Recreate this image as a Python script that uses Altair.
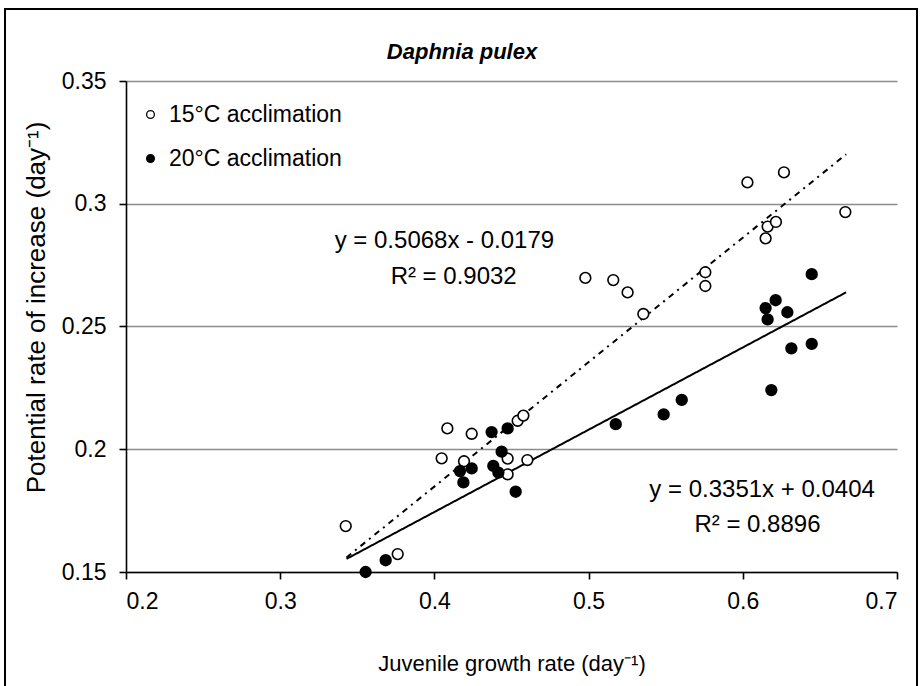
import altair as alt
import pandas as pd

# ---- data ----
series_names = ["15°C acclimation", "20°C acclimation"]

x15 = [0.3425, 0.3762, 0.4047, 0.4084, 0.4192, 0.4242, 0.4475, 0.4475, 0.4540, 0.4577,
       0.4603, 0.4979, 0.5160, 0.5253, 0.5355, 0.5757, 0.5757, 0.6030, 0.6148, 0.6161,
       0.6215, 0.6267, 0.6665]
y15 = [0.1687, 0.1573, 0.1963, 0.2085, 0.1951, 0.2063, 0.1962, 0.1898, 0.2116, 0.2137,
       0.1956, 0.2698, 0.2689, 0.2639, 0.2551, 0.2721, 0.2665, 0.3087, 0.2859, 0.2907,
       0.2926, 0.3128, 0.2966]

x20 = [0.3554, 0.3684, 0.4166, 0.4188, 0.4242, 0.4371, 0.4382, 0.4415, 0.4436, 0.4475,
       0.4527, 0.5176, 0.5487, 0.5604, 0.6148, 0.6161, 0.6185, 0.6213, 0.6289, 0.6315,
       0.6447, 0.6447]
y20 = [0.1500, 0.1548, 0.1911, 0.1865, 0.1922, 0.2070, 0.1932, 0.1905, 0.1990, 0.2085,
       0.1827, 0.2102, 0.2142, 0.2201, 0.2575, 0.2529, 0.2241, 0.2607, 0.2558, 0.2411,
       0.2713, 0.2429]

# trend lines (from the equations printed on the chart)
trend_names = ["fit 15°C", "fit 20°C"]
trend_slope = [0.5068, 0.3351]
trend_intercept = [-0.0179, 0.0404]
trend_x_range = [0.343, 0.667]

# annotations
eq_text = ["y = 0.5068x - 0.0179", "R² = 0.9032", "y = 0.3351x + 0.0404", "R² = 0.8896"]
eq_x = [0.4065, 0.4125, 0.6125, 0.6095]
eq_y = [0.2848, 0.2702, 0.1834, 0.1691]

title_text = "Daphnia pulex"
x_ticks = [0.2, 0.3, 0.4, 0.5, 0.6, 0.7]
y_ticks = [0.15, 0.2, 0.25, 0.3, 0.35]

FONT = "Liberation Sans"

pts = pd.DataFrame({
    "x": x15 + x20,
    "y": y15 + y20,
    "series": [series_names[0]] * len(x15) + [series_names[1]] * len(x20),
})

trend_rows = []
for i, s in enumerate(trend_names):
    for xv in trend_x_range:
        trend_rows.append({"x": xv, "fit": s, "slope": trend_slope[i], "intercept": trend_intercept[i]})
trend = pd.DataFrame(trend_rows)

ann = pd.DataFrame({"x": eq_x, "y": eq_y, "text": eq_text})

xscale = alt.Scale(domain=[0.2, 0.7], nice=False, zero=False)
yscale = alt.Scale(domain=[0.15, 0.35], nice=False, zero=False)

xenc = alt.X("x:Q", scale=xscale, title="Juvenile growth rate (day⁻¹)",
             axis=alt.Axis(values=x_ticks, format="~g", grid=False, labelPadding=11,
                           titlePadding=40, titleFontSize=22))
yenc = alt.Y("y:Q", scale=yscale, title="Potential rate of increase (day⁻¹)",
             axis=alt.Axis(values=y_ticks, format="~g", grid=True, labelPadding=13,
                           titlePadding=12, titleFontSize=26, titleY=226))

frame = alt.Chart(pd.DataFrame({"a": [0]})).mark_rect(
    fillOpacity=0, stroke="black", strokeWidth=2
).encode(x=alt.value(-121), x2=alt.value(791), y=alt.value(-72), y2=alt.value(700))

title = alt.Chart(pd.DataFrame({"t": [title_text]})).mark_text(
    font="Liberation Sans Narrow, Liberation Sans", fontSize=22, fontStyle="italic",
    fontWeight="bold", color="black", align="center", baseline="middle"
).encode(x=alt.value(336), y=alt.value(-29), text="t:N")

lines = alt.Chart(trend).transform_calculate(
    y="datum.slope * datum.x + datum.intercept"
).mark_line(color="black", strokeWidth=2).encode(
    x=alt.X("x:Q", scale=xscale),
    y=alt.Y("y:Q", scale=yscale),
    detail="fit:N",
    strokeDash=alt.StrokeDash(
        "fit:N",
        scale=alt.Scale(domain=trend_names, range=[[6, 5, 2, 5], [1, 0]]),
        legend=None,
    ),
)

points = alt.Chart(pts).mark_point(
    shape="circle", filled=True, stroke="black", strokeWidth=1.6, size=115, opacity=1
).encode(
    x=xenc,
    y=yenc,
    fill=alt.Fill(
        "series:N",
        scale=alt.Scale(domain=series_names, range=["white", "black"]),
        legend=alt.Legend(
            title=None, orient="none", legendX=13, legendY=22,
            symbolType="circle", symbolSize=60, symbolStrokeColor="black",
            symbolStrokeWidth=1.3, labelFontSize=23, labelFont=FONT, labelLimit=0,
            labelColor="black", rowPadding=20, padding=0, labelOffset=7,
        ),
    ),
)

text = alt.Chart(ann).mark_text(
    font=FONT, fontSize=24, color="black", align="center", baseline="middle"
).encode(x=alt.X("x:Q", scale=xscale), y=alt.Y("y:Q", scale=yscale), text="text:N")

chart = alt.layer(frame, title, lines, points, text).properties(
    width=771,
    height=491,
    autosize=alt.AutoSizeParams(type="none"),
    padding={"left": 126, "top": 81, "right": 26, "bottom": 114},
).configure_view(stroke=None).configure_axis(
    domainColor="black", domainWidth=1.6, tickColor="black", tickWidth=1.6, tickSize=7,
    labelFont=FONT, labelFontSize=23, labelColor="black",
    titleFont=FONT, titleFontWeight="normal", titleColor="black",
    gridColor="#8c8c8c", gridWidth=1.6,
)

chart.save("out.html", embed_options={"renderer": "svg", "actions": False})
